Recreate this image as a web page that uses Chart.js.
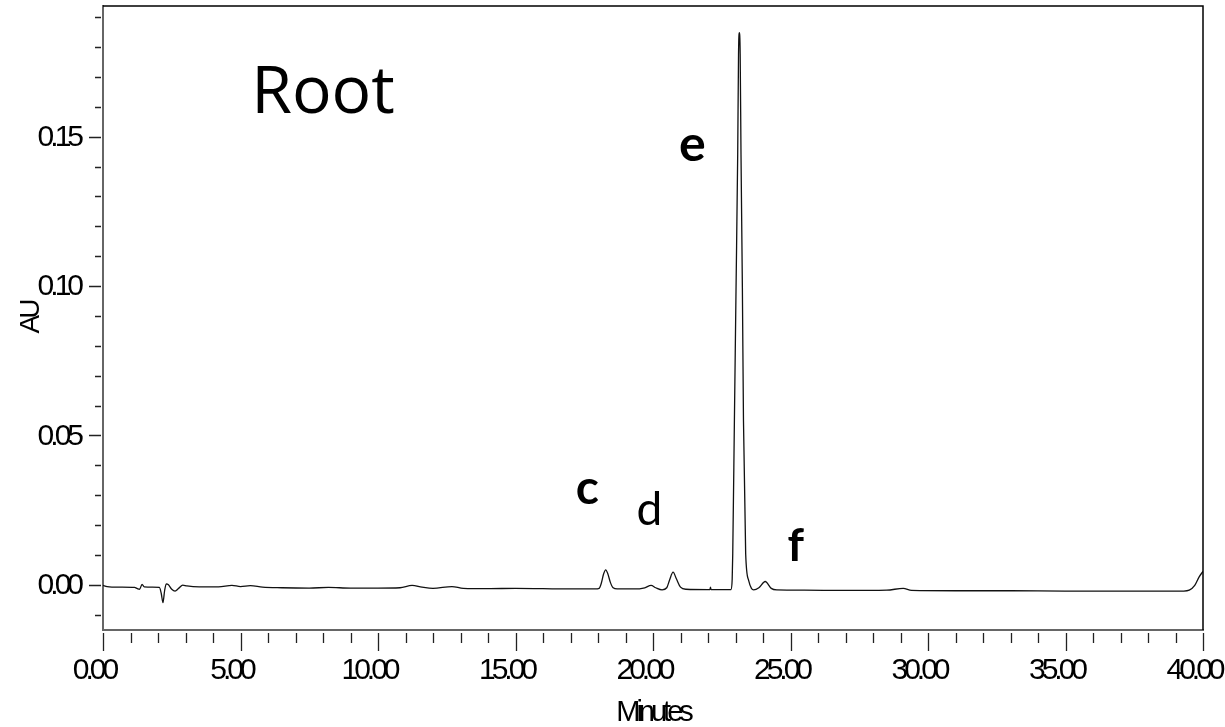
<!DOCTYPE html>
<html>
<head>
<meta charset="utf-8">
<title>Root chromatogram</title>
<script src="https://cdn.jsdelivr.net/npm/chart.js@4.4.1/dist/chart.umd.min.js"></script>
<style>
  html, body { margin: 0; padding: 0; background: #fff; }
  #wrap { position: relative; width: 1225px; height: 727px; }
</style>
</head>
<body>
<div id="wrap"><canvas id="chrom"></canvas></div>
<script>
// retention time (min) and detector response (AU)
const retentionMinutes = [
  0.00, 0.15, 0.60, 1.15, 1.25, 1.33, 1.42, 1.50, 1.80, 2.05,
  2.12, 2.18, 2.24, 2.30, 2.38, 2.50, 2.62, 2.75, 2.90, 3.05,
  3.50, 4.20, 4.69, 5.00, 5.36, 5.80, 6.50, 7.50, 8.20, 9.00,
  10.00, 10.80, 11.24, 11.60, 12.00, 12.69, 13.10, 14.00, 15.00, 16.00,
  17.00, 17.90, 18.04, 18.12, 18.20, 18.28, 18.36, 18.45, 18.55, 18.70,
  19.30, 19.70, 19.93, 20.10, 20.33, 20.50, 20.60, 20.73, 20.85, 21.00,
  21.20, 22.00, 22.07, 22.09, 22.11, 22.84, 22.88, 22.90, 22.96, 23.02,
  23.08, 23.11, 23.14, 23.17, 23.20, 23.25, 23.29, 23.37, 23.48, 23.58,
  23.66, 23.85, 24.08, 24.30, 24.50, 25.50, 27.00, 28.50, 29.10, 29.40,
  31.00, 33.00, 35.00, 37.00, 38.50, 39.30, 39.50, 39.70, 39.85, 40.00
];
const absorbanceAU = [
  -0.0002, -0.0006, -0.0008, -0.0009, -0.0013, -0.0015, 0.0001, -0.0007, -0.0008, -0.0009,
  -0.0030, -0.0060, -0.0020, 0.0003, 0.0000, -0.0015, -0.0021, -0.0012, -0.0001, -0.0004,
  -0.0007, -0.0007, -0.0002, -0.0006, -0.0003, -0.0008, -0.0010, -0.0011, -0.0009, -0.0011,
  -0.0011, -0.0010, -0.0002, -0.0008, -0.0012, -0.0006, -0.0012, -0.0013, -0.0012, -0.0013,
  -0.0014, -0.0014, -0.0012, 0.0005, 0.0035, 0.0050, 0.0036, 0.0008, -0.0010, -0.0014,
  -0.0014, -0.0010, -0.0002, -0.0010, -0.0017, -0.0010, 0.0015, 0.0042, 0.0020, -0.0008,
  -0.0015, -0.0016, -0.0016, -0.0008, -0.0016, -0.0016, 0.0020, 0.0104, 0.0550, 0.0995,
  0.1441, 0.1776, 0.1848, 0.1776, 0.1441, 0.0995, 0.0550, 0.0104, 0.0014, -0.0012,
  -0.0017, -0.0010, 0.0011, -0.0012, -0.0017, -0.0018, -0.0019, -0.0018, -0.0012, -0.0019,
  -0.0020, -0.0020, -0.0021, -0.0021, -0.0021, -0.0021, -0.0018, -0.0002, 0.0025, 0.0045
];

// axis ranges and ticks
const xMin = 0, xMax = 40, xStep = 1, xLabelEvery = 5;
const yMin = -0.01514, yMax = 0.19374, yStep = 0.01, yLabelEvery = 5;

// peak labels, placed in data units
const noteTexts = ['Root', 'c', 'd', 'e', 'f'];
const noteMinutes = [8.0, 17.61, 19.87, 21.43, 25.19];
const noteAU = [0.1578, 0.0272, 0.0201, 0.1419, 0.0081];
const noteBold = [false, true, false, true, true];
const noteSize = [66, 48, 46, 50, 46];
const noteFont = ['"Open Sans", Lato, sans-serif', 'Lato, sans-serif', 'Lato, sans-serif', 'Lato, sans-serif', 'Lato, sans-serif'];

const axisFont = "'Liberation Sans', Arial, sans-serif";

const axisDecor = {
  id: 'axisDecor',
  beforeDraw(chart) {
    chart.ctx.letterSpacing = '-4px';
  },
  beforeDatasetsDraw(chart) {
    chart.ctx.letterSpacing = '0px';
  },
  afterDraw(chart) {
    const { ctx, chartArea: a, scales: { x, y } } = chart;
    ctx.save();
    ctx.letterSpacing = '0px';
    ctx.strokeStyle = '#222';
    ctx.lineWidth = 1.3;
    ctx.beginPath();
    x.ticks.forEach((t) => {
      const px = Math.round(x.getPixelForValue(t.value)) + 0.5;
      const major = t.label !== '';
      ctx.moveTo(px, a.bottom + 3);
      ctx.lineTo(px, a.bottom + (major ? 21 : 13));
    });
    y.ticks.forEach((t) => {
      const py = Math.round(y.getPixelForValue(t.value)) + 0.5;
      const major = t.label !== '';
      ctx.moveTo(a.left - 2, py);
      ctx.lineTo(a.left - (major ? 14 : 8), py);
    });
    ctx.stroke();

    // top and right frame
    ctx.strokeStyle = '#000';
    ctx.lineWidth = 1.5;
    ctx.beginPath();
    ctx.moveTo(a.left, a.top);
    ctx.lineTo(a.right, a.top);
    ctx.lineTo(a.right, a.bottom);
    ctx.stroke();

    ctx.fillStyle = '#000';
    ctx.textAlign = 'center';
    ctx.textBaseline = 'alphabetic';
    noteTexts.forEach((txt, i) => {
      ctx.font = (noteBold[i] ? 'bold ' : '') + noteSize[i] + 'px ' + noteFont[i];
      ctx.fillText(txt, x.getPixelForValue(noteMinutes[i]), y.getPixelForValue(noteAU[i]));
    });
    ctx.restore();
  }
};

const points = retentionMinutes.map((m, i) => ({ x: m, y: absorbanceAU[i] }));

new Chart(document.getElementById('chrom'), {
  type: 'line',
  data: {
    datasets: [{
      data: points,
      borderColor: '#111',
      borderWidth: 1.3,
      pointRadius: 0,
      fill: false,
      cubicInterpolationMode: 'monotone',
    }],
  },
  options: {
    responsive: true,
    maintainAspectRatio: false,
    animation: false,
    layout: { padding: { top: 6, right: 22, bottom: 0, left: 0 } },
    plugins: { legend: { display: false }, tooltip: { enabled: false } },
    scales: {
      x: {
        type: 'linear',
        min: xMin,
        max: xMax,
        grid: { display: false, drawTicks: false },
        border: { display: true, color: '#666', width: 2 },
        ticks: {
          stepSize: xStep,
          autoSkip: false,
          maxRotation: 0,
          includeBounds: false,
          padding: 26,
          labelOffset: -9,
          color: '#000',
          font: { family: axisFont, size: 30, lineHeight: 1 },
          callback: (v) => {
            const k = Math.round(v);
            return k % xLabelEvery === 0 ? k.toFixed(2) : '';
          },
        },
        title: {
          display: true,
          text: 'Minutes',
          color: '#000',
          font: { family: axisFont, size: 29, lineHeight: 1 },
          padding: { top: 0, bottom: 0 },
        },
        afterFit: (s) => { s.height = 97; s.paddingLeft = 0; s.paddingRight = 0; },
      },
      y: {
        min: yMin,
        max: yMax,
        grid: { display: false, drawTicks: false },
        border: { display: true, color: '#666', width: 2 },
        ticks: {
          stepSize: yStep,
          autoSkip: false,
          includeBounds: false,
          padding: 23,
          labelOffset: 1,
          color: '#000',
          font: { family: axisFont, size: 30, lineHeight: 1 },
          callback: (v) => {
            const k = Math.round(v * 100);
            return k % yLabelEvery === 0 ? (k / 100).toFixed(2) : '';
          },
        },
        title: {
          display: true,
          text: 'AU',
          color: '#000',
          font: { family: axisFont, size: 28, lineHeight: 1 },
          padding: { top: 17, bottom: 0 },
        },
        afterFit: (s) => { s.width = 103; s.paddingTop = 0; s.paddingBottom = 0; },
      },
    },
  },
  plugins: [axisDecor],
});
</script>
</body>
</html>
